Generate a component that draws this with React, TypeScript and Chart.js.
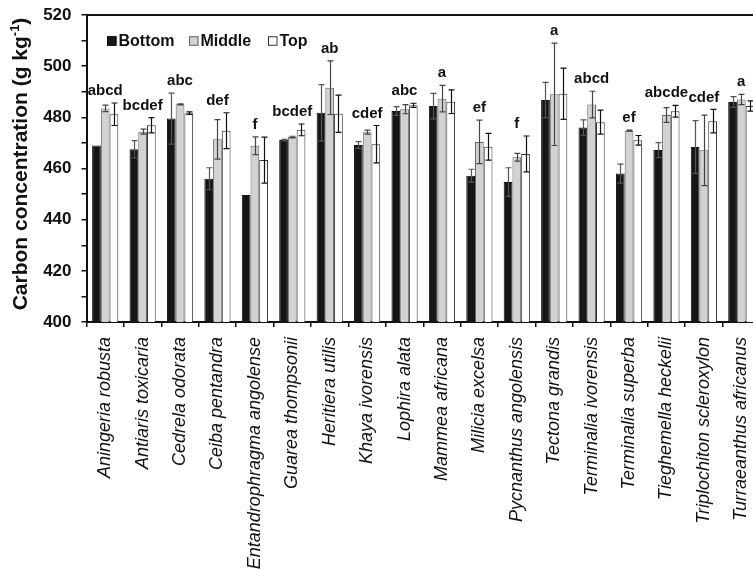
import React, { useEffect, useRef } from "react";
import { Chart, registerables } from "chart.js";

Chart.register(...registerables);

const species = [
  "Aningeria robusta",
  "Antiaris toxicaria",
  "Cedrela odorata",
  "Ceiba pentandra",
  "Entandrophragma angolense",
  "Guarea thompsonii",
  "Heritiera utilis",
  "Khaya ivorensis",
  "Lophira alata",
  "Mammea africana",
  "Milicia excelsa",
  "Pycnanthus angolensis",
  "Tectona grandis",
  "Terminalia ivorensis",
  "Terminalia superba",
  "Tieghemella heckelii",
  "Triplochiton scleroxylon",
  "Turraeanthus africanus",
];

const bottomValues = [469, 467.5, 479.5, 456, 449.6, 471.1, 481.8, 469.2, 482.5, 484.4, 457.2, 454.7, 486.8, 476, 458, 467.2, 468.4, 486];
const bottomErr = [0, 3.4, 10, 4.3, 0, 0.3, 11, 1.3, 1.7, 5, 2.5, 5.6, 6.9, 3, 3.7, 2.9, 10.3, 2.1];
const middleValues = [483.5, 474.4, 485.1, 471.4, 468.9, 472.3, 491.6, 474.2, 483.2, 487.3, 470.4, 464.4, 489, 485, 474.8, 480.9, 467.1, 487];
const middleErr = [1.3, 1, 0.2, 7.7, 3.5, 0.3, 10.5, 0.8, 1.8, 5.2, 8.5, 1.5, 20, 5.2, 0.2, 2.9, 13.8, 2];
const topValues = [481.2, 476.9, 481.6, 474.8, 463.3, 475.1, 481.4, 469.5, 484.7, 486.1, 468.5, 465.7, 489.2, 478.1, 471, 482.4, 478.5, 484.4];
const topErr = [4.4, 3, 0.5, 7, 9, 2.3, 7.3, 7.3, 0.8, 4.6, 5.2, 7, 10, 4.7, 1.9, 2.3, 4.6, 2];
const groupLetters = ["abcd", "bcdef", "abc", "def", "f", "bcdef", "ab", "cdef", "abc", "a", "ef", "f", "a", "abcd", "ef", "abcde", "cdef", "a"];

const seriesNames = ["Bottom", "Middle", "Top"];
const yMin = 400;
const yMax = 520;
const yStep = 10;
const yLabelStep = 20;
const yTitleMain = "Carbon concentration (g kg";
const yTitleSup = "-1";
const yTitleEnd = ")";

const FONT = "'Liberation Sans', Arial, Helvetica, sans-serif";

const errorBarPlugin = {
  id: "errorBars",
  afterDatasetsDraw(chart: any) {
    const ctx = chart.ctx;
    const yScale = chart.scales.y;
    chart.data.datasets.forEach((ds: any, i: number) => {
      const meta = chart.getDatasetMeta(i);
      const errs: number[] = ds.errors || [];
      ctx.save();
      ctx.strokeStyle = ds.errorColor || "#000";
      ctx.lineWidth = 1.2;
      meta.data.forEach((el: any, j: number) => {
        const e = errs[j];
        if (!e) return;
        const v = ds.data[j];
        const x = Math.round(el.x) + 0.5;
        const yTop = yScale.getPixelForValue(v + e);
        const yBot = yScale.getPixelForValue(v - e);
        ctx.beginPath();
        ctx.moveTo(x, yTop);
        ctx.lineTo(x, yBot);
        ctx.moveTo(x - 3, yTop);
        ctx.lineTo(x + 3, yTop);
        ctx.moveTo(x - 3, yBot);
        ctx.lineTo(x + 3, yBot);
        ctx.stroke();
      });
      ctx.restore();
    });
  },
};

const lettersPlugin = {
  id: "groupLetters",
  afterDatasetsDraw(chart: any) {
    const ctx = chart.ctx;
    const xScale = chart.scales.x;
    const yScale = chart.scales.y;
    ctx.save();
    ctx.font = `bold 15px ${FONT}`;
    ctx.fillStyle = "#111";
    ctx.textAlign = "center";
    ctx.textBaseline = "middle";
    groupLetters.forEach((txt, j) => {
      let maxV = -Infinity;
      chart.data.datasets.forEach((ds: any) => {
        const v = ds.data[j] + ((ds.errors && ds.errors[j]) || 0);
        if (v > maxV) maxV = v;
      });
      const x = xScale.getPixelForValue(j);
      const y = yScale.getPixelForValue(maxV) - 12;
      ctx.fillText(txt, x, y);
    });
    ctx.restore();
  },
};

const framePlugin = {
  id: "frameAndLegend",
  afterDraw(chart: any) {
    const ctx = chart.ctx;
    const area = chart.chartArea;
    ctx.save();
    // top frame line
    ctx.strokeStyle = "#111";
    ctx.lineWidth = 2;
    ctx.beginPath();
    ctx.moveTo(area.left, area.top);
    ctx.lineTo(area.right, area.top);
    ctx.stroke();

    // legend inside plot
    const legendX = [107, 189, 268];
    const boxSize = 9.5;
    const cy = 41;
    ctx.font = `bold 16px ${FONT}`;
    ctx.textBaseline = "middle";
    ctx.textAlign = "left";
    chart.data.datasets.forEach((ds: any, i: number) => {
      const x = legendX[i];
      ctx.fillStyle = ds.backgroundColor;
      ctx.fillRect(x, cy - boxSize / 2, boxSize, boxSize);
      ctx.strokeStyle = ds.borderColor;
      ctx.lineWidth = 1;
      ctx.strokeRect(x + 0.5, cy - boxSize / 2 + 0.5, boxSize - 1, boxSize - 1);
      ctx.fillStyle = "#111";
      ctx.fillText(ds.label, x + boxSize + 2, cy + 1);
    });

    // y axis title with superscript
    ctx.fillStyle = "#111";
    const mainFont = `bold 21px ${FONT}`;
    const supFont = `bold 13px ${FONT}`;
    ctx.font = mainFont;
    const w1 = ctx.measureText(yTitleMain).width;
    const w3 = ctx.measureText(yTitleEnd).width;
    ctx.font = supFont;
    const w2 = ctx.measureText(yTitleSup).width;
    const total = w1 + w2 + w3;
    ctx.translate(27, 164);
    ctx.rotate(-Math.PI / 2);
    ctx.textBaseline = "alphabetic";
    let x0 = -total / 2;
    ctx.font = mainFont;
    ctx.fillText(yTitleMain, x0, 0);
    x0 += w1;
    ctx.font = supFont;
    ctx.fillText(yTitleSup, x0, -8);
    x0 += w2;
    ctx.font = mainFont;
    ctx.fillText(yTitleEnd, x0, 0);
    ctx.restore();
  },
};

export default function App() {
  const canvasRef = useRef<HTMLCanvasElement | null>(null);

  useEffect(() => {
    const canvas = canvasRef.current;
    if (!canvas) return;
    const chart = new Chart(canvas, {
      type: "bar",
      data: {
        labels: species,
        datasets: [
          {
            label: seriesNames[0],
            data: bottomValues,
            errors: bottomErr,
            errorColor: "#555",
            backgroundColor: "#161616",
            borderColor: "#111",
            borderWidth: 1,
          } as any,
          {
            label: seriesNames[1],
            data: middleValues,
            errors: middleErr,
            errorColor: "#444",
            backgroundColor: "#d2d2d2",
            borderColor: "#666",
            borderWidth: 1,
          } as any,
          {
            label: seriesNames[2],
            data: topValues,
            errors: topErr,
            errorColor: "#111",
            backgroundColor: "#ffffff",
            borderColor: "#333",
            borderWidth: 1,
          } as any,
        ],
      },
      options: {
        responsive: false,
        animation: false,
        devicePixelRatio: 1,
        layout: { padding: { top: 15, right: 0, left: 0, bottom: 0 } },
        datasets: {
          bar: {
            categoryPercentage: 0.7,
            barPercentage: 1.0,
            borderSkipped: "start",
          },
        },
        plugins: {
          legend: { display: false },
          tooltip: { enabled: false },
          title: { display: false },
        },
        scales: {
          x: {
            type: "category",
            offset: true,
            grid: {
              offset: true,
              drawOnChartArea: false,
              drawTicks: true,
              tickLength: 5,
              color: "#111",
              lineWidth: 1.5,
            },
            border: { display: true, color: "#111", width: 2 },
            ticks: {
              autoSkip: false,
              minRotation: 90,
              maxRotation: 90,
              padding: 10,
              color: "#111",
              font: { family: FONT, size: 18, style: "italic" },
            },
            afterFit(scale: any) {
              scale.height = 247;
              scale.paddingLeft = 0;
              scale.paddingRight = 0;
            },
          },
          y: {
            min: yMin,
            max: yMax,
            grid: {
              drawOnChartArea: false,
              drawTicks: true,
              tickLength: 5,
              color: "#111",
              lineWidth: 1.5,
            },
            border: { display: true, color: "#111", width: 2 },
            ticks: {
              stepSize: yStep,
              padding: 10,
              color: "#111",
              font: { family: FONT, size: 17, weight: "bold" },
              callback: (v: any) => (Number(v) % yLabelStep === 0 ? String(v) : ""),
            },
            afterFit(scale: any) {
              scale.width = 86.5;
              scale.paddingTop = 0;
              scale.paddingBottom = 0;
            },
          },
        },
      } as any,
      plugins: [errorBarPlugin, lettersPlugin, framePlugin],
    });
    return () => chart.destroy();
  }, []);

  return (
    <div
      style={{
        position: "fixed",
        left: 0,
        top: 0,
        width: 753,
        height: 569,
        overflow: "hidden",
        background: "#fff",
      }}
    >
      <canvas ref={canvasRef} width={760} height={569} style={{ display: "block" }} />
    </div>
  );
}
